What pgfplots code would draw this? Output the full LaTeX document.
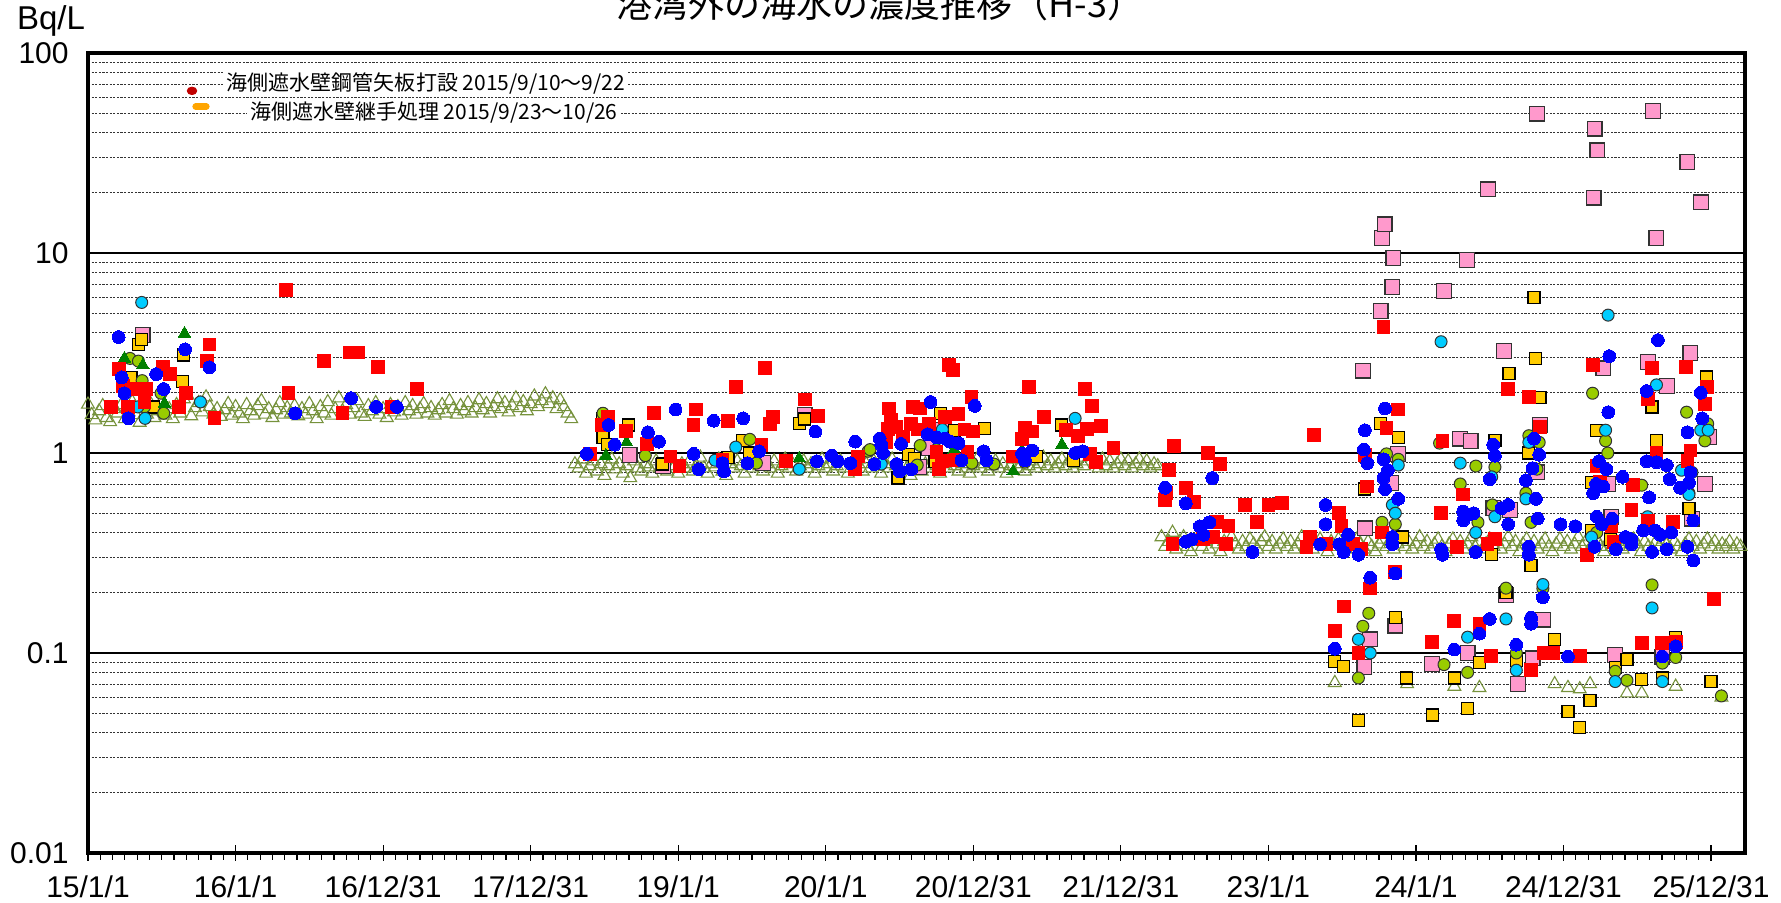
\documentclass[border=0pt]{standalone}
\usepackage{pgfplots}
\pgfplotsset{compat=1.18}
\usepackage{fontspec}
\setmainfont{Liberation Sans}
\newfontfamily\cjk{Noto Sans CJK JP}
\definecolor{redM}{RGB}{255,0,0}
\definecolor{blueM}{RGB}{0,0,255}
\definecolor{cyanM}{RGB}{0,204,255}
\definecolor{ygM}{RGB}{153,204,0}
\definecolor{yelM}{RGB}{255,204,0}
\definecolor{pinkM}{RGB}{255,153,204}
\definecolor{greenT}{RGB}{0,128,0}
\definecolor{oliveT}{RGB}{118,146,60}
\definecolor{legred}{RGB}{192,0,0}
\definecolor{legorange}{RGB}{255,165,0}
\definecolor{bord}{RGB}{50,50,50}
\pgfplotsset{
  redsq/.style={only marks, mark=square*, mark size=3.2pt, mark options={fill=redM, draw=redM, line width=0pt}},
  bluec/.style={only marks, mark=*, mark size=3.2pt, mark options={fill=blueM, draw=blueM, line width=0pt}},
  cyanc/.style={only marks, mark=*, mark size=3pt, mark options={fill=cyanM, draw=bord, line width=0.5pt}},
  ygc/.style={only marks, mark=*, mark size=3pt, mark options={fill=ygM, draw=bord, line width=0.5pt}},
  yelsq/.style={only marks, mark=square*, mark size=3pt, mark options={fill=yelM, draw=black, line width=0.6pt}},
  pinksq/.style={only marks, mark=square*, mark size=3.7pt, mark options={fill=pinkM, draw=bord, line width=0.6pt}},
  gtri/.style={only marks, mark=triangle*, mark size=3.6pt, mark options={fill=greenT, draw=greenT, line width=0pt}},
  otri/.style={only marks, mark=triangle, mark size=3.7pt, mark options={draw=oliveT, line width=0.55pt}},
}
\begin{document}
\begin{tikzpicture}
\begin{axis}[
  name=ax, at={(0pt,0pt)}, anchor=south west,
  scale only axis, width=828.5pt, height=400pt,
  xmin=0, xmax=11.23, ymode=log, ymin=0.01, ymax=100,
  xtick={0,1,2,3,4,5,6,7,8,9,10,11},
  xticklabels={15/1/1,16/1/1,16/12/31,17/12/31,19/1/1,20/1/1,20/12/31,21/12/31,23/1/1,24/1/1,24/12/31,25/12/31},
  minor x tick num=11,
  ytick={0.01,0.1,1,10,100},
  yticklabels={0.01,0.1,1,10,100},
  minor ytick={0.02,0.03,0.04,0.05,0.06,0.07,0.08,0.09,0.2,0.3,0.4,0.5,0.6,0.7,0.8,0.9,2,3,4,5,6,7,8,9,20,30,40,50,60,70,80,90},
  ymajorgrids=true, yminorgrids=true,
  major grid style={black, line width=0.9pt},
  minor grid style={black!80, line width=0.45pt, dash pattern=on 1.1pt off 0.7pt},
  axis line style={line width=1.8pt},
  tick align=center,
  xtick pos=left, ytick pos=left,
  major tick length=8pt, minor tick length=3.3pt,
  tick style={black, line width=0.6pt},
  minor x tick style={yshift=-1.65pt},
  major y tick style={draw=none}, minor y tick style={draw=none},
  xticklabel style={font=\fontsize{15}{17}\selectfont, inner sep=0pt, yshift=-7pt},
  yticklabel style={font=\fontsize{15}{17}\selectfont, inner sep=0pt, xshift=-5.5pt},
  legend cell align=left,
  legend style={at={(axis description cs:0,1)}, anchor=north west, yshift=-8.25pt,
    draw=none, fill=none, inner sep=0pt, outer sep=0pt, row sep=1.5pt, column sep=0pt,
    font=\cjk\fontsize{10.5}{12}\selectfont,
    nodes={fill=white, inner sep=1.5pt}},
]
\addlegendimage{legend image code/.code={
  \path[draw=none, fill=none] (0pt,-6pt) rectangle (68pt,6pt);
  \fill[legred] (52pt,-4pt) ellipse [x radius=2.4pt, y radius=1.9pt];
}}
\addlegendentry{海側遮水壁鋼管矢板打設 2015/9/10～9/22}
\addlegendimage{legend image code/.code={
  \path[draw=none, fill=none] (0pt,-6pt) rectangle (68pt,6pt);
  \draw[legorange, line width=3.2pt, line cap=round] (53.8pt,3pt) -- (59.2pt,3pt);
}}
\addlegendentry[xshift=11.5pt]{海側遮水壁継手処理 2015/9/23～10/26}

% open triangles (detection limit)
\addplot[otri] coordinates {
(0.000,1.75)(0.025,1.55)(0.050,1.46)(0.075,1.62)(0.100,1.72)(0.125,1.50)(0.150,1.43)(0.175,1.66)(0.200,1.58)(0.225,1.74)
(0.250,1.48)(0.275,1.60)(0.300,1.80)(0.325,1.55)(0.350,1.42)(0.375,1.68)(0.400,1.56)(0.425,1.76)(0.450,1.50)(0.475,1.62)
(0.500,1.82)(0.525,1.54)(0.550,1.66)(0.575,1.48)(0.600,1.74)(0.625,1.58)(0.650,1.86)(0.675,1.94)(0.700,1.53)(0.725,1.68)
(0.750,1.78)(0.775,1.60)(0.800,1.90)(0.825,1.70)(0.850,1.56)(0.875,1.66)(0.900,1.52)(0.925,1.64)(0.950,1.76)(0.975,1.54)
(1.000,1.70)(1.025,1.58)(1.050,1.48)(1.075,1.74)(1.100,1.62)(1.125,1.54)(1.150,1.72)(1.175,1.82)(1.200,1.56)(1.225,1.66)
(1.250,1.50)(1.275,1.64)(1.300,1.78)(1.325,1.56)(1.350,1.68)(1.375,1.58)(1.400,1.72)(1.425,1.53)(1.450,1.66)(1.475,1.56)
(1.500,1.76)(1.525,1.62)(1.550,1.48)(1.575,1.70)(1.600,1.58)(1.625,1.80)(1.650,1.54)(1.675,1.66)(1.700,1.88)(1.725,1.62)
(1.750,1.74)(1.775,1.56)(1.800,1.68)(1.825,1.82)(1.850,1.58)(1.875,1.52)(1.900,1.72)(1.925,1.62)(1.950,1.78)(1.975,1.56)
(2.000,1.66)(2.025,1.50)(2.050,1.74)(2.075,1.60)(2.100,1.70)(2.125,1.54)(2.150,1.78)(2.175,1.62)(2.200,1.72)(2.225,1.56)
(2.250,1.66)(2.275,1.76)(2.300,1.58)(2.325,1.68)(2.350,1.54)(2.375,1.64)(2.400,1.74)(2.425,1.58)(2.450,1.82)(2.475,1.66)
(2.500,1.56)(2.525,1.72)(2.550,1.62)(2.575,1.78)(2.600,1.58)(2.625,1.68)(2.650,1.84)(2.675,1.64)(2.700,1.76)(2.725,1.58)
(2.750,1.70)(2.775,1.86)(2.800,1.66)(2.825,1.78)(2.850,1.60)(2.875,1.72)(2.900,1.88)(2.925,1.68)(2.950,1.80)(2.975,1.62)
(3.000,1.76)(3.025,1.92)(3.050,1.70)(3.075,1.82)(3.100,1.97)(3.125,1.76)(3.150,1.88)(3.175,1.66)(3.200,1.84)(3.225,1.70)
(3.250,1.58)(3.275,1.48)
(3.300,0.88)(3.325,0.84)(3.350,0.93)(3.375,0.79)(3.400,0.86)(3.425,0.91)(3.450,0.81)(3.475,0.88)(3.500,0.77)(3.525,0.86)
(3.550,0.93)(3.575,0.83)(3.600,0.88)(3.625,0.79)(3.650,0.86)(3.675,0.75)(3.700,0.91)(3.725,0.84)(3.750,0.81)(3.775,0.88)
(3.800,0.85)(3.825,0.79)(3.850,0.91)(3.875,0.84)(3.900,0.87)(3.925,0.81)(3.950,0.93)(3.975,0.86)(4.000,0.79)(4.025,0.88)
(4.050,0.84)(4.075,0.91)(4.100,0.81)(4.125,0.86)(4.150,0.95)(4.175,0.84)(4.200,0.79)(4.225,0.88)(4.250,0.85)(4.275,0.93)
(4.300,0.81)(4.325,0.77)(4.350,0.88)(4.375,0.84)(4.400,0.91)(4.425,0.86)(4.450,0.79)(4.475,0.88)(4.500,0.84)(4.525,0.93)
(4.550,0.86)(4.575,0.81)(4.600,0.88)(4.625,0.84)(4.650,0.91)(4.675,0.79)(4.700,0.86)(4.725,0.93)(4.750,0.84)(4.775,0.88)
(4.800,0.81)(4.825,0.86)(4.850,0.91)(4.875,0.84)(4.900,0.88)(4.925,0.79)(4.950,0.86)(4.975,0.93)(5.000,0.84)(5.025,0.88)
(5.050,0.81)(5.075,0.86)(5.100,0.91)(5.125,0.84)(5.150,0.79)(5.175,0.88)(5.200,0.85)(5.225,0.93)(5.250,0.81)(5.275,0.88)
(5.300,0.84)(5.325,0.91)(5.350,0.86)(5.375,0.79)(5.400,0.88)(5.425,0.84)(5.450,0.93)(5.475,0.86)(5.500,0.81)(5.525,0.88)
(5.550,0.84)(5.575,0.77)(5.600,0.91)(5.625,0.86)(5.650,0.81)(5.675,0.88)(5.700,0.84)(5.725,0.93)(5.750,0.86)(5.775,0.79)
(5.800,0.88)(5.825,0.84)(5.850,0.91)(5.875,0.86)(5.900,0.81)(5.925,0.88)(5.950,0.84)(5.975,0.79)(6.000,0.86)(6.025,0.93)
(6.050,0.84)(6.075,0.88)(6.100,0.81)(6.125,0.86)(6.150,0.91)(6.175,0.84)(6.200,0.88)(6.225,0.79)(6.250,0.86)(6.275,0.93)
(6.300,0.84)(6.325,0.88)(6.350,0.81)(6.375,0.86)(6.400,0.91)(6.425,0.84)(6.450,0.88)(6.475,0.95)(6.500,0.86)(6.525,0.91)
(6.550,0.84)(6.575,0.88)(6.600,0.93)(6.625,0.86)(6.650,0.91)(6.675,0.84)(6.700,0.88)(6.725,0.95)(6.750,0.86)(6.775,0.91)
(6.800,0.97)(6.825,0.88)(6.850,0.84)(6.875,0.93)(6.900,0.86)(6.925,0.91)(6.950,0.84)(6.975,0.88)(7.000,0.93)(7.025,0.86)
(7.050,0.91)(7.075,0.84)(7.100,0.88)(7.125,0.93)(7.150,0.86)(7.175,0.91)(7.200,0.84)(7.225,0.88)(7.250,0.86)
(7.275,0.38)(7.300,0.34)(7.325,0.36)(7.350,0.40)(7.375,0.33)(7.400,0.36)(7.425,0.38)(7.450,0.34)(7.475,0.32)(7.500,0.36)
(7.525,0.38)(7.550,0.34)(7.575,0.36)(7.600,0.33)(7.625,0.37)(7.650,0.35)(7.675,0.32)(7.700,0.36)(7.725,0.34)(7.750,0.38)
(7.775,0.35)(7.800,0.33)(7.825,0.36)(7.850,0.34)(7.875,0.37)(7.900,0.35)(7.925,0.33)(7.950,0.36)(7.975,0.38)(8.000,0.34)
(8.025,0.36)(8.050,0.33)(8.075,0.35)(8.100,0.37)(8.125,0.34)(8.150,0.36)(8.175,0.33)(8.200,0.35)(8.225,0.38)(8.250,0.34)
(8.275,0.36)(8.300,0.33)(8.325,0.35)(8.350,0.37)(8.375,0.34)(8.400,0.32)(8.425,0.36)(8.450,0.34)(8.475,0.37)(8.500,0.35)
(8.525,0.33)(8.550,0.36)(8.575,0.34)(8.600,0.37)(8.625,0.35)(8.650,0.33)(8.675,0.36)(8.700,0.34)(8.725,0.32)(8.750,0.35)
(8.775,0.37)(8.800,0.34)(8.825,0.36)(8.850,0.33)(8.875,0.35)(8.900,0.37)(8.925,0.34)(8.950,0.36)(8.975,0.33)(9.000,0.35)
(9.025,0.38)(9.050,0.34)(9.075,0.36)(9.100,0.33)(9.125,0.35)(9.150,0.37)(9.175,0.34)(9.200,0.32)(9.225,0.35)(9.250,0.37)
(9.275,0.34)(9.300,0.36)(9.325,0.33)(9.350,0.35)(9.375,0.38)(9.400,0.34)(9.425,0.36)(9.450,0.33)(9.475,0.35)(9.500,0.37)
(9.525,0.34)(9.550,0.36)(9.575,0.33)(9.600,0.35)(9.625,0.38)(9.650,0.34)(9.675,0.36)(9.700,0.32)(9.725,0.35)(9.750,0.37)
(9.775,0.34)(9.800,0.36)(9.825,0.33)(9.850,0.35)(9.875,0.37)(9.900,0.34)(9.925,0.32)(9.950,0.35)(9.975,0.37)(10.000,0.34)
(10.025,0.36)(10.050,0.33)(10.075,0.35)(10.100,0.38)(10.125,0.34)(10.150,0.36)(10.175,0.33)(10.200,0.35)(10.225,0.37)(10.250,0.34)
(10.275,0.32)(10.300,0.36)(10.325,0.34)(10.350,0.37)(10.375,0.35)(10.400,0.33)(10.425,0.36)(10.450,0.34)(10.475,0.37)(10.500,0.35)
(10.525,0.32)(10.550,0.36)(10.575,0.34)(10.600,0.33)(10.625,0.36)(10.650,0.34)(10.675,0.37)(10.700,0.35)(10.725,0.33)(10.750,0.36)
(10.775,0.34)(10.800,0.32)(10.825,0.35)(10.850,0.37)(10.875,0.34)(10.900,0.36)(10.925,0.33)(10.950,0.35)(10.975,0.37)(11.000,0.34)
(11.025,0.36)(11.050,0.33)(11.075,0.35)(11.100,0.34)(11.125,0.36)(11.150,0.33)(11.175,0.35)(11.200,0.34)
(8.45,0.071)(8.94,0.070)(9.26,0.068)(9.43,0.067)(9.94,0.070)(10.03,0.067)(10.11,0.066)(10.18,0.070)(10.43,0.063)(10.53,0.063)(10.76,0.068)(11.07,0.060)
};

% pink squares
\addplot[pinksq] coordinates {
(0.370,3.90)(3.670,0.98)(3.896,0.86)(4.575,0.89)(4.857,1.55)(5.630,0.85)(5.700,1.06)(5.790,1.31)
(8.641,2.58)(8.654,0.42)(8.760,5.14)(8.770,11.9)(8.787,13.9)(8.830,0.71)(8.840,6.77)(8.847,9.45)(8.880,0.99)(9.190,6.47)
(9.300,1.18)(9.346,9.20)(9.370,1.15)(9.490,20.8)(9.525,0.53)(9.596,3.24)(9.636,0.52)(9.820,49.8)(9.820,0.80)(9.840,1.38)
(10.204,18.9)(10.210,41.9)(10.230,32.6)(10.270,2.65)(10.300,0.70)(10.325,0.48)(10.573,2.86)(10.606,51.3)(10.630,11.9)
(10.700,2.16)(10.840,28.5)(10.860,3.16)(10.870,0.47)(10.930,17.9)(10.960,0.70)(10.985,1.20)
(8.650,0.085)(8.690,0.117)(8.860,0.137)(9.110,0.088)(9.350,0.100)(9.610,0.195)(9.690,0.070)(9.790,0.094)(9.860,0.147)(10.350,0.098)(10.670,0.096)
};

% yellow squares
\addplot[yelsq] coordinates {
(0.292,2.39)(0.342,3.49)(0.364,3.71)(0.443,1.70)(0.643,2.28)(0.649,3.09)
(3.486,1.49)(3.490,1.20)(3.520,1.10)(3.664,1.38)(3.896,0.88)(4.337,0.95)(4.435,1.16)(4.485,1.00)(4.820,1.40)(4.857,1.48)
(5.490,0.75)(5.560,0.98)(5.600,0.94)(5.740,0.91)(5.777,1.58)(5.870,1.30)(6.078,1.32)(6.430,0.96)(6.600,1.38)(6.680,0.92)
(8.650,0.66)(8.760,1.40)(8.880,1.20)(8.910,0.38)(9.170,0.50)(9.510,0.31)(9.535,1.15)(9.630,2.50)(9.765,1.00)(9.780,0.275)
(9.800,6.00)(9.810,2.97)(9.840,1.89)(10.190,0.71)(10.190,0.41)(10.225,1.30)(10.320,0.37)(10.600,1.70)(10.630,1.16)(10.850,0.53)(10.970,2.40)
(8.450,0.091)(8.510,0.086)(8.610,0.046)(8.860,0.150)(8.937,0.075)(9.110,0.049)(9.260,0.075)(9.350,0.053)(9.430,0.090)(9.610,0.200)
(9.680,0.092)(9.940,0.117)(10.030,0.051)(10.110,0.0425)(10.180,0.0577)(10.350,0.085)(10.430,0.093)(10.530,0.074)(10.670,0.075)(10.760,0.120)(11.000,0.072)
};

% yellow-green circles
\addplot[ygc] coordinates {
(0.285,2.97)(0.342,2.88)(0.367,2.30)(0.382,1.70)(0.495,1.99)(0.513,1.58)(3.490,1.58)(3.777,0.97)(4.485,1.17)(4.530,0.89)
(5.287,1.02)(5.300,1.04)(5.620,0.87)(5.640,1.09)(5.750,1.04)(5.990,0.89)(6.140,0.88)(6.350,0.90)
(8.770,0.45)(8.800,0.99)(8.860,0.44)(8.880,0.93)(9.160,1.12)(9.300,0.70)(9.406,0.86)(9.420,0.45)(9.517,0.55)(9.535,0.85)
(9.745,0.63)(9.765,1.22)(9.780,0.45)(9.820,0.83)(9.835,1.13)(10.197,1.99)(10.225,0.40)(10.285,1.15)(10.300,1.00)(10.530,0.69)
(10.834,1.60)(10.850,0.63)(10.958,1.15)(10.977,1.40)
(8.610,0.075)(8.640,0.136)(8.680,0.158)(9.190,0.0875)(9.350,0.080)(9.610,0.211)(9.680,0.100)(9.860,0.210)(10.350,0.081)
(10.430,0.073)(10.600,0.219)(10.670,0.089)(10.760,0.095)(11.070,0.061)
};

% cyan circles
\addplot[cyanc] coordinates {
(0.337,1.70)(0.364,5.66)(0.387,1.49)(0.762,1.80)(4.250,0.92)(4.390,1.07)(4.820,0.83)(5.376,0.88)(5.790,1.31)(6.690,1.49)
(8.840,0.55)(8.860,0.50)(8.880,0.87)(9.170,3.60)(9.300,0.89)(9.405,0.40)(9.513,0.76)(9.535,0.48)(9.745,0.59)(9.765,1.13)
(10.190,0.38)(10.285,1.30)(10.302,4.89)(10.570,0.48)(10.630,2.19)(10.800,0.82)(10.850,0.62)(10.870,0.80)(10.930,1.30)(10.980,1.30)
(8.610,0.117)(8.690,0.100)(9.350,0.120)(9.610,0.148)(9.680,0.082)(9.780,0.147)(9.860,0.220)(10.350,0.072)(10.600,0.168)(10.670,0.072)
};

% green filled triangles
\addplot[gtri] coordinates {
(0.247,2.97)(0.372,2.75)(0.518,1.77)(0.654,3.96)(3.510,0.97)(3.650,1.13)(4.820,0.94)(5.870,1.04)(6.270,0.81)(6.330,1.03)(6.600,1.10)
};

% red squares
\addplot[redsq] coordinates {
(0.157,1.70)(0.208,2.62)(0.236,2.17)(0.270,1.70)(0.303,2.09)(0.383,1.80)(0.394,2.09)(0.511,2.68)(0.557,2.48)(0.615,1.70)
(0.665,2.00)(0.807,2.88)(0.823,3.49)(0.857,1.49)(1.343,6.52)(1.359,2.00)(1.598,2.88)(1.725,1.58)(1.772,3.18)(1.828,3.18)
(1.968,2.68)(2.060,1.70)(2.229,2.09)
(3.400,0.99)(3.482,1.38)(3.524,1.51)(3.648,1.29)(3.790,1.11)(3.836,1.59)(3.948,0.96)(4.009,0.86)(4.104,1.38)(4.122,1.65)
(4.300,0.92)(4.337,1.45)(4.390,2.14)(4.564,1.10)(4.586,2.65)(4.620,1.40)(4.640,1.51)(4.730,0.91)(4.857,1.85)(4.950,1.53)
(5.200,0.83)(5.220,0.96)
(5.410,1.14)(5.420,1.32)(5.430,1.67)(5.440,1.46)(5.480,1.35)(5.524,1.21)(5.580,1.40)(5.590,1.70)(5.625,1.31)(5.640,1.67)
(5.700,1.40)(5.750,1.01)(5.770,0.83)(5.790,0.91)(5.810,1.51)(5.833,2.75)(5.862,2.60)(5.880,0.92)(5.900,1.56)(5.940,1.31)
(5.960,1.01)(5.987,1.91)(6.000,1.28)(6.265,0.96)(6.330,1.17)(6.350,1.33)(6.380,2.13)(6.400,1.28)(6.480,1.52)(6.630,1.30)
(6.710,1.22)(6.755,2.09)(6.770,1.32)(6.790,0.99)(6.805,1.72)(6.830,0.90)(6.864,1.37)(6.950,1.06)(7.305,0.63)(7.325,0.82)(7.360,1.08)
(7.298,0.58)(7.350,0.35)(7.440,0.67)(7.496,0.57)(7.557,0.37)(7.590,1.00)(7.625,0.38)(7.654,0.45)(7.670,0.88)(7.710,0.35)
(7.730,0.43)(7.840,0.55)(7.920,0.45)(8.000,0.55)(8.090,0.56)(8.258,0.34)(8.280,0.38)(8.308,1.23)(8.390,0.35)(8.480,0.50)
(8.495,0.43)(8.574,0.35)(8.630,0.33)(8.654,0.98)(8.670,0.68)(8.770,0.40)(8.780,4.27)(8.800,1.33)(8.880,1.65)(9.170,0.50)(9.180,1.15)
(9.280,0.34)(9.316,0.62)(9.485,0.35)(9.535,0.37)(9.625,2.09)(9.765,1.91)(9.840,1.35)(10.157,0.31)(10.200,2.75)(10.225,0.86)
(10.245,0.72)(10.325,0.43)(10.340,0.36)(10.460,0.52)(10.470,0.69)(10.570,1.87)(10.575,0.46)(10.600,2.65)(10.630,1.00)(10.740,0.45)
(10.830,2.70)(10.840,0.91)(10.860,1.03)(10.960,1.75)(10.970,2.13)
(8.450,0.129)(8.510,0.171)(8.610,0.100)(8.690,0.210)(8.860,0.255)(9.110,0.114)(9.260,0.144)(9.430,0.140)(9.510,0.097)(9.780,0.082)
(9.870,0.100)(9.930,0.100)(10.110,0.097)(10.530,0.112)(10.670,0.112)(10.760,0.114)(11.020,0.186)
};

% blue circles
\addplot[bluec] coordinates {
(0.208,3.80)(0.229,2.39)(0.247,1.99)(0.274,1.49)(0.462,2.48)(0.513,2.09)(0.658,3.30)(0.823,2.68)(1.404,1.58)(1.783,1.88)
(1.953,1.70)(2.093,1.70)
(3.381,0.99)(3.528,1.38)(3.569,1.10)(3.795,1.27)(3.870,1.14)(3.982,1.65)(4.104,0.99)(4.140,0.83)(4.240,1.45)(4.300,0.89)
(4.310,0.81)(4.440,1.49)(4.470,0.89)(4.548,1.02)(4.930,1.28)(4.940,0.91)(5.040,0.97)(5.080,0.91)(5.167,0.89)(5.200,1.14)
(5.330,0.88)(5.365,1.18)(5.376,1.10)(5.388,1.00)(5.480,0.88)(5.500,0.81)(5.510,1.11)(5.580,0.83)(5.690,1.24)(5.710,1.80)
(5.750,1.20)(5.810,1.18)(5.840,1.14)(5.900,1.12)(5.920,0.92)(6.010,1.72)(6.070,1.02)(6.090,0.92)(6.330,0.99)(6.350,0.92)
(6.400,1.03)(6.690,1.00)(6.740,1.02)(7.300,0.67)
(7.440,0.56)(7.440,0.36)(7.480,0.37)(7.535,0.43)(7.560,0.39)(7.600,0.45)(7.620,0.75)(7.892,0.32)(8.350,0.35)(8.387,0.55)
(8.387,0.44)(8.480,0.35)(8.510,0.32)(8.540,0.39)(8.610,0.31)(8.647,1.04)(8.654,1.30)(8.670,0.89)(8.780,0.93)(8.780,0.75)
(8.790,1.67)(8.790,0.66)(8.810,0.82)(8.840,0.38)(8.840,0.35)(8.880,0.59)(9.170,0.33)(9.180,0.31)
(9.320,0.51)(9.320,0.46)(9.350,0.49)(9.390,0.50)(9.405,0.32)(9.500,0.74)(9.523,1.10)(9.535,0.97)(9.580,0.53)(9.625,0.55)
(9.625,0.44)(9.745,0.73)(9.765,0.34)(9.765,0.31)(9.790,0.84)(9.800,1.18)(9.813,0.59)(9.825,0.47)(9.835,0.98)(9.980,0.44)
(10.080,0.43)(10.200,0.63)(10.210,0.34)(10.220,0.70)(10.225,0.48)(10.240,0.91)(10.260,0.44)(10.270,0.68)(10.290,0.83)(10.303,1.60)
(10.310,3.05)(10.330,0.47)(10.355,0.33)(10.400,0.76)(10.420,0.38)(10.460,0.37)(10.460,0.35)(10.540,0.41)(10.563,2.04)(10.563,0.91)
(10.580,0.60)(10.600,0.32)(10.620,0.41)(10.630,0.90)(10.640,3.67)(10.655,0.39)(10.700,0.87)(10.700,0.33)(10.720,0.74)(10.730,0.40)
(10.790,0.67)(10.840,1.27)(10.840,0.34)(10.850,0.71)(10.860,0.80)(10.880,0.46)(10.880,0.29)(10.930,2.00)(10.940,1.49)
(8.450,0.105)(8.690,0.238)(8.860,0.250)(9.260,0.104)(9.430,0.125)(9.500,0.148)(9.680,0.110)(9.780,0.140)(9.780,0.150)(9.860,0.190)
(10.030,0.096)(10.670,0.096)(10.760,0.108)
};
\end{axis}
\node[anchor=base, font=\cjk\fontsize{18}{20}\selectfont] at (396pt,417.5pt) {港湾外の海水の濃度推移（H-3）};
\node[font=\fontsize{16.5}{18}\selectfont] at (-18.5pt,416pt) {Bq/L};
\pgfresetboundingbox
\useasboundingbox (-44pt,-25pt) rectangle (846.5pt,426.5pt);
\end{tikzpicture}
\end{document}
